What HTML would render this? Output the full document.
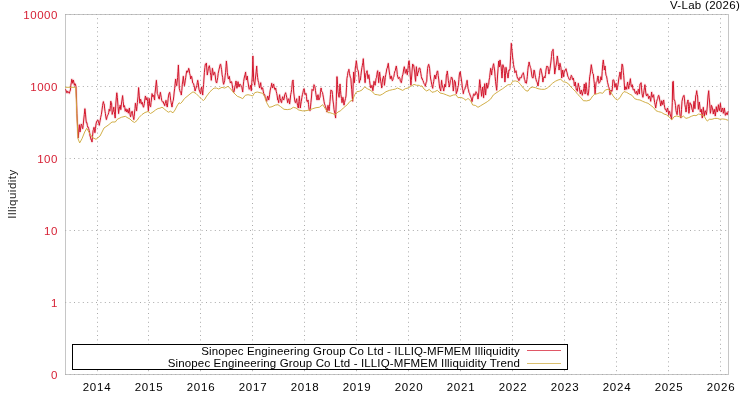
<!DOCTYPE html><html><head><meta charset="utf-8"><title>V-Lab</title><style>
html,body{margin:0;padding:0;background:#fff;}
body{width:750px;height:400px;position:relative;overflow:hidden;font-family:"Liberation Sans",sans-serif;font-size:11.5px;color:#000;}
.t{position:absolute;white-space:nowrap;line-height:12px;height:12px;will-change:transform;}
.yl{color:#d61f33;text-align:right;left:0;width:58px;letter-spacing:0.55px;}
.xl{text-align:center;width:40px;letter-spacing:0.75px;}
.lg{text-align:right;left:100px;width:420px;letter-spacing:0.13px;}
</style></head><body>
<svg width="750" height="400" viewBox="0 0 750 400" style="position:absolute;left:0;top:0"><rect x="0" y="0" width="750" height="400" fill="#fff"/><rect x="65.5" y="14.5" width="663" height="360" fill="none" stroke="#c6c6c6" stroke-width="1" shape-rendering="crispEdges"/><g stroke="#aaaaaa" stroke-width="1" stroke-dasharray="1,3.4"><line x1="97.5" y1="18.2" x2="97.5" y2="374"/><line x1="148.5" y1="18.2" x2="148.5" y2="374"/><line x1="200.5" y1="18.2" x2="200.5" y2="374"/><line x1="252.5" y1="18.2" x2="252.5" y2="374"/><line x1="304.5" y1="18.2" x2="304.5" y2="374"/><line x1="356.5" y1="18.2" x2="356.5" y2="374"/><line x1="408.5" y1="18.2" x2="408.5" y2="374"/><line x1="460.5" y1="18.2" x2="460.5" y2="374"/><line x1="512.5" y1="18.2" x2="512.5" y2="374"/><line x1="564.5" y1="18.2" x2="564.5" y2="374"/><line x1="616.5" y1="18.2" x2="616.5" y2="374"/><line x1="668.5" y1="18.2" x2="668.5" y2="374"/><line x1="720.5" y1="18.2" x2="720.5" y2="374"/><line x1="65.2" y1="14.5" x2="728" y2="14.5"/><line x1="65.2" y1="86.5" x2="728" y2="86.5"/><line x1="65.2" y1="158.5" x2="728" y2="158.5"/><line x1="65.2" y1="230.5" x2="728" y2="230.5"/><line x1="65.2" y1="302.5" x2="728" y2="302.5"/><line x1="65.2" y1="374.5" x2="728" y2="374.5"/></g><clipPath id="c"><rect x="65" y="14" width="664" height="360"/></clipPath><g clip-path="url(#c)" fill="none" stroke-linejoin="round"><polyline points="65.3,89.3 65.8,90.0 66.2,90.7 66.7,92.7 67.2,92.8 67.7,91.2 68.3,92.0 68.8,92.8 69.3,93.3 69.9,91.3 70.4,90.0 70.8,85.4 71.3,82.9 71.7,79.3 72.2,80.2 72.7,83.3 73.3,80.0 73.9,82.5 74.4,85.3 74.9,83.6 75.3,84.0 76.0,86.7 76.5,99.0 76.9,113.3 77.6,126.7 78.3,138.0 78.8,131.2 79.3,124.7 80.0,132.0 80.4,130.1 80.9,125.8 81.3,124.0 81.8,124.9 82.2,127.4 82.7,128.7 83.2,125.4 83.7,120.0 84.3,114.5 84.9,108.7 85.5,114.1 86.0,120.0 86.4,122.9 86.9,122.5 87.3,125.3 87.8,127.3 88.2,127.1 88.7,128.7 89.1,130.3 89.6,132.6 90.0,136.0 90.5,137.0 91.0,139.8 91.5,139.7 92.0,142.0 92.5,136.5 93.1,130.7 93.5,129.3 94.0,127.3 94.5,129.7 94.9,132.7 95.5,128.4 96.0,124.0 96.5,122.0 97.0,120.9 97.5,120.3 98.0,120.0 98.4,122.2 98.9,123.4 99.3,125.3 99.8,122.2 100.2,120.2 100.7,117.3 101.4,114.4 102.0,109.9 102.6,105.6 103.0,103.1 103.4,101.6 103.8,103.5 104.2,104.0 104.6,108.1 105.0,111.2 105.4,113.4 105.8,116.8 106.4,119.6 106.8,118.0 107.2,116.0 107.7,115.3 108.2,114.4 108.7,112.7 109.2,109.2 109.6,110.8 110.0,111.2 110.4,105.7 110.8,101.2 111.2,103.4 111.6,103.2 112.2,114.4 112.6,112.3 113.0,112.0 113.4,109.4 113.8,107.2 114.2,111.4 114.6,114.4 115.2,118.0 115.8,104.0 116.4,96.8 116.8,92.8 117.4,97.6 118.0,106.4 118.6,113.6 119.0,110.0 119.4,108.0 119.8,106.6 120.2,105.2 120.8,109.6 121.4,104.0 122.0,100.0 122.6,95.6 123.2,101.6 123.8,107.2 124.4,105.6 124.8,107.3 125.2,111.2 125.6,110.4 126.0,108.8 126.4,111.0 126.8,112.0 127.2,111.0 127.6,109.6 128.0,112.3 128.4,113.2 128.9,110.2 129.4,108.0 130.0,114.4 130.6,116.8 131.0,114.9 131.4,112.0 131.8,111.8 132.2,111.2 132.6,113.8 133.0,116.0 133.4,117.7 133.8,119.6 134.2,116.6 134.6,112.0 135.0,108.7 135.4,103.2 136.0,106.4 136.6,110.8 137.0,106.5 137.4,102.4 138.0,96.8 138.6,87.6 139.2,95.2 139.8,103.2 140.2,101.6 140.6,99.2 141.0,100.5 141.4,104.0 141.9,103.7 142.4,102.4 142.8,105.0 143.2,106.8 143.6,107.2 144.0,105.2 144.4,103.4 144.8,100.0 145.4,96.0 145.8,97.5 146.2,100.0 146.6,98.5 147.0,97.6 147.6,101.6 148.0,106.6 148.4,110.8 148.8,103.5 149.2,98.4 149.8,105.6 150.2,106.1 150.6,106.8 151.0,102.6 151.4,100.0 152.0,93.6 152.4,94.3 152.8,96.8 153.3,95.1 153.8,95.6 154.2,98.4 154.6,100.0 154.9,93.6 155.3,91.0 155.9,84.8 156.4,80.3 156.9,86.4 157.3,93.7 157.8,94.7 158.3,96.3 158.8,98.6 159.3,99.0 159.9,94.7 160.4,92.3 160.8,94.9 161.3,97.8 161.7,100.3 162.3,101.7 162.8,102.0 163.3,101.7 163.8,103.9 164.2,103.8 164.7,105.7 165.1,103.7 165.6,101.8 166.0,100.3 166.4,103.5 166.9,105.9 167.3,107.0 167.8,102.2 168.2,98.2 168.7,95.0 169.2,93.0 169.7,92.3 170.2,95.7 170.7,100.3 171.1,102.5 171.6,105.0 172.0,107.0 172.4,104.2 172.9,101.4 173.3,100.3 173.8,96.1 174.2,92.0 174.7,88.3 175.1,83.8 175.6,79.0 176.1,83.4 176.7,85.7 177.1,82.1 177.6,77.7 178.0,71.4 178.4,65.0 178.9,76.9 179.3,88.3 179.9,90.8 180.4,92.3 180.9,92.6 181.3,95.0 181.8,90.6 182.3,84.3 182.8,81.0 183.3,76.3 183.9,81.9 184.4,85.7 184.8,83.7 185.3,80.1 185.7,77.7 186.2,74.1 186.7,71.0 187.2,70.7 187.7,72.3 188.2,70.7 188.7,68.3 189.2,69.9 189.7,73.7 190.2,75.3 190.7,79.0 191.1,77.0 191.6,76.3 192.1,78.9 192.7,83.0 193.1,83.5 193.6,83.7 194.0,85.7 194.5,87.1 195.1,91.0 195.5,88.8 196.0,88.3 196.5,86.0 196.9,85.7 197.3,82.7 197.7,80.3 198.2,82.5 198.7,87.0 199.1,89.9 199.6,91.0 200.1,92.6 200.7,93.7 201.1,89.5 201.6,87.0 202.1,90.4 202.7,95.0 203.1,89.3 203.6,84.3 204.0,78.0 204.4,72.3 204.9,67.4 205.3,64.3 205.9,64.5 206.4,63.0 206.9,70.2 207.3,75.0 207.9,71.6 208.4,68.3 208.9,67.0 209.3,65.7 209.8,68.0 210.3,72.3 210.8,75.4 211.3,80.3 211.9,74.0 212.4,68.3 212.9,71.1 213.3,75.0 213.8,74.9 214.2,72.4 214.7,72.3 215.1,74.5 215.6,79.0 216.1,82.1 216.7,83.0 217.2,80.4 217.7,77.7 218.2,73.5 218.7,71.0 219.1,69.1 219.6,67.0 220.1,64.5 220.7,64.3 221.1,67.1 221.6,69.7 222.1,74.8 222.7,77.7 223.1,81.9 223.6,84.3 224.1,82.8 224.7,80.3 225.1,75.8 225.6,72.3 226.0,66.3 226.4,61.0 226.9,65.9 227.3,72.3 227.9,76.3 228.4,79.0 228.9,77.7 229.3,76.3 229.9,80.3 230.4,83.0 231.0,81.9 231.6,81.7 232.1,84.3 232.7,88.3 233.2,91.1 233.7,92.3 234.3,90.8 234.8,87.0 235.4,84.8 236.0,81.0 236.5,85.4 236.9,88.3 237.5,85.8 238.0,81.7 238.5,84.9 239.1,87.0 239.5,84.8 240.0,84.0 240.4,84.9 240.9,85.4 241.3,86.7 241.8,87.3 242.2,89.1 242.7,92.0 243.2,86.1 243.7,81.3 244.2,78.1 244.7,76.0 245.1,74.5 245.6,72.0 246.0,77.1 246.4,80.0 246.9,77.9 247.3,76.0 247.8,81.0 248.3,84.0 248.8,87.8 249.3,89.3 249.9,88.4 250.4,85.3 250.9,87.7 251.3,90.7 251.8,82.7 252.3,76.0 252.9,56.0 253.3,68.0 253.7,81.3 254.2,82.6 254.7,85.3 255.2,80.0 255.7,76.0 256.2,71.3 256.7,66.0 257.1,72.6 257.6,77.3 258.1,80.8 258.7,82.7 259.1,85.3 259.6,88.0 260.1,85.7 260.7,82.7 261.1,86.7 261.6,89.3 262.1,87.7 262.7,88.0 263.2,91.1 263.7,93.3 264.2,95.0 264.7,94.7 265.1,96.7 265.6,97.3 266.1,99.9 266.7,101.3 267.2,98.6 267.7,96.0 268.2,97.2 268.7,100.0 269.1,98.0 269.6,94.7 270.1,90.9 270.7,88.0 271.2,86.4 271.7,83.3 272.2,86.8 272.7,88.0 273.1,85.8 273.6,84.0 274.1,86.4 274.7,89.3 275.2,89.7 275.7,88.0 276.2,91.2 276.7,93.3 277.2,95.9 277.7,100.0 278.2,100.4 278.7,102.7 279.1,97.8 279.6,94.7 280.1,98.3 280.7,100.0 281.1,102.1 281.6,102.7 282.1,98.8 282.7,96.7 283.2,99.1 283.7,100.0 284.2,98.5 284.7,94.7 285.1,94.0 285.6,92.7 286.1,94.6 286.7,97.3 287.2,100.1 287.7,102.7 288.2,99.8 288.7,98.7 289.1,100.2 289.6,104.0 290.1,100.5 290.7,94.7 291.2,92.4 291.7,89.3 292.4,81.3 293.1,80.0 293.7,92.0 294.2,96.1 294.7,100.0 295.2,102.4 295.7,102.7 296.2,100.5 296.7,98.7 297.1,102.9 297.6,105.3 298.0,107.4 298.4,108.0 298.9,101.3 299.3,96.0 299.8,101.4 300.3,108.0 300.8,104.2 301.3,101.3 301.9,97.4 302.4,94.7 302.9,92.9 303.3,90.7 304.0,88.7 304.5,91.1 305.1,94.7 305.5,93.8 306.0,93.3 306.5,96.4 306.9,101.3 307.5,101.7 308.0,100.0 308.5,104.3 309.1,109.3 309.5,109.9 310.0,110.7 310.5,106.9 310.9,102.7 311.5,97.0 312.0,89.3 312.5,89.8 313.1,90.7 313.5,88.7 314.0,84.7 314.5,85.7 314.9,86.7 315.5,90.7 316.0,94.7 316.5,97.4 317.1,100.0 317.5,96.2 318.0,94.7 318.5,97.2 318.9,100.0 319.5,97.9 320.0,97.3 320.5,91.5 321.1,88.0 321.5,90.7 322.0,92.0 322.5,92.5 322.9,94.7 323.5,97.9 324.0,101.3 324.5,103.9 325.1,105.3 325.5,106.8 326.0,108.0 326.5,109.6 326.9,112.0 327.5,108.7 328.0,105.3 328.5,108.1 329.1,110.7 329.5,106.7 330.0,101.3 330.5,94.7 330.9,90.0 331.5,90.5 332.0,90.7 332.5,94.7 332.9,100.0 333.5,104.1 334.0,109.3 334.5,112.0 334.9,113.3 335.6,118.0 336.3,101.3 336.9,76.7 337.1,76.7 337.5,84.4 338.0,92.0 338.5,94.8 339.1,97.3 339.5,91.3 340.0,84.0 340.5,90.3 340.9,94.7 341.5,98.5 342.0,102.7 342.5,100.3 342.9,97.3 343.5,101.2 344.0,105.1 344.5,102.6 345.1,100.0 345.5,98.5 346.0,96.0 346.5,87.2 346.9,78.7 347.5,75.4 348.0,72.0 348.5,70.6 348.9,69.3 349.5,73.7 350.0,76.0 350.5,77.8 350.9,78.7 351.3,84.9 351.7,89.3 352.2,96.4 352.7,101.3 353.1,86.1 353.6,72.0 354.0,77.5 354.4,82.7 354.9,76.4 355.3,68.0 355.8,65.1 356.3,60.7 356.8,64.1 357.3,69.3 357.9,69.8 358.4,72.0 358.9,77.2 359.3,82.7 359.9,80.3 360.4,80.0 360.9,75.4 361.3,72.0 361.9,67.6 362.4,65.3 362.9,62.4 363.3,58.7 363.8,66.0 364.3,72.0 364.7,78.3 365.1,82.7 365.5,77.2 366.0,73.3 366.5,72.5 367.1,70.7 367.5,75.1 368.0,78.7 368.5,75.8 368.9,74.7 369.5,80.3 370.0,84.0 370.5,87.1 370.9,88.0 371.5,86.0 372.0,85.3 372.5,89.1 372.9,90.7 373.5,85.8 374.0,81.3 374.5,83.3 375.1,85.3 375.5,83.2 376.0,78.7 376.5,77.5 376.9,74.7 377.3,71.9 377.7,70.7 378.2,76.5 378.7,82.7 379.1,77.4 379.6,72.0 380.1,76.3 380.7,81.3 381.2,83.9 381.7,88.0 382.2,82.9 382.7,78.7 383.1,77.9 383.6,76.0 384.0,79.5 384.4,85.3 384.9,81.5 385.3,77.3 385.8,74.5 386.3,72.0 386.8,68.8 387.3,68.0 387.8,65.3 388.3,63.3 388.8,68.0 389.3,72.0 389.8,75.4 390.3,78.7 390.8,76.3 391.3,76.0 391.9,79.5 392.4,80.7 392.9,79.7 393.3,77.3 393.9,76.5 394.4,73.3 394.9,71.1 395.3,70.7 395.8,67.8 396.3,66.0 396.8,69.2 397.3,74.7 397.9,77.3 398.4,78.7 398.9,77.4 399.3,77.3 399.9,78.4 400.4,81.3 400.9,81.8 401.3,82.7 401.8,80.3 402.3,76.0 402.8,74.8 403.3,72.0 403.8,68.8 404.3,66.7 404.8,69.2 405.3,73.3 405.8,72.3 406.3,69.3 406.8,72.2 407.3,74.7 407.8,70.5 408.3,65.3 408.7,62.0 409.1,60.7 409.5,65.3 410.0,72.0 410.5,79.1 410.9,85.3 411.3,80.5 411.7,76.0 412.2,69.0 412.7,64.0 413.2,65.7 413.7,65.3 414.2,69.0 414.7,72.0 415.1,77.4 415.6,81.3 416.0,73.0 416.4,66.7 416.9,72.2 417.3,76.0 417.8,73.0 418.3,72.0 418.7,70.9 419.1,68.0 419.5,68.1 420.0,68.3 420.4,70.6 420.9,73.8 421.3,76.3 421.8,78.7 422.2,78.4 422.7,80.3 423.1,80.6 423.6,82.6 424.0,83.7 424.4,83.9 424.9,84.5 425.3,86.3 425.8,84.0 426.2,82.1 426.7,81.7 427.1,74.3 427.6,68.3 428.1,65.9 428.7,64.3 429.1,65.9 429.6,68.3 430.1,74.3 430.7,79.0 431.2,81.2 431.7,84.3 432.2,86.3 432.7,88.3 433.2,84.2 433.7,81.7 434.2,78.0 434.7,75.0 435.2,75.8 435.7,79.0 436.2,75.7 436.7,73.7 437.2,71.2 437.7,71.0 438.2,75.6 438.7,79.0 439.2,83.8 439.7,88.3 440.2,88.9 440.7,91.0 441.1,85.6 441.6,80.3 442.1,84.7 442.7,87.0 443.2,88.1 443.7,91.0 444.2,88.4 444.7,84.3 445.1,85.5 445.6,87.0 446.0,81.0 446.4,75.0 446.9,73.8 447.3,71.0 447.8,75.4 448.3,80.3 448.8,83.7 449.3,87.0 449.9,84.1 450.4,80.3 450.9,79.8 451.3,77.0 451.9,77.6 452.4,79.0 452.9,85.8 453.3,91.0 453.9,86.2 454.4,80.3 454.9,81.3 455.3,81.7 455.8,87.4 456.3,93.7 456.8,92.0 457.3,91.0 457.9,87.3 458.4,85.7 458.9,79.4 459.3,75.0 459.8,72.3 460.3,71.7 460.8,75.9 461.3,79.0 461.9,83.1 462.4,88.3 462.9,90.2 463.3,93.7 463.9,90.7 464.4,89.7 464.9,89.2 465.3,87.0 465.8,86.2 466.3,83.7 466.7,82.4 467.1,80.3 467.5,83.8 468.0,88.3 468.5,89.7 468.9,92.3 469.5,93.2 470.0,95.0 470.5,96.2 471.1,97.7 471.5,98.8 472.0,101.7 472.5,98.9 473.1,96.3 473.5,94.4 474.0,93.7 474.5,95.4 475.1,95.0 475.5,94.5 476.0,91.7 476.5,92.8 477.1,93.7 477.5,95.7 478.0,99.0 478.5,96.1 478.9,91.0 479.3,84.9 479.7,79.7 480.2,83.7 480.7,88.3 481.1,91.1 481.6,96.3 482.1,91.4 482.7,87.0 483.1,92.3 483.6,97.7 484.1,90.7 484.7,83.7 485.1,88.6 485.6,95.0 486.1,89.0 486.7,83.0 487.1,84.5 487.6,88.3 488.1,85.8 488.7,84.3 489.1,80.0 489.6,77.7 490.1,72.8 490.7,68.3 491.1,70.6 491.6,75.0 492.1,70.5 492.7,68.3 493.1,65.5 493.6,63.7 494.1,66.7 494.7,71.0 495.1,76.5 495.6,81.7 496.1,86.1 496.7,90.3 497.1,83.3 497.6,75.0 498.1,68.4 498.7,61.0 499.1,64.5 499.6,67.0 500.0,60.0 500.5,63.9 501.1,66.0 501.5,71.7 502.0,78.0 502.5,70.9 502.9,64.7 503.5,67.2 504.0,67.3 504.5,73.8 504.9,82.0 505.5,75.2 506.0,67.3 506.5,70.3 506.9,72.7 507.5,74.2 508.0,78.0 508.5,74.8 508.9,70.0 509.5,70.3 510.0,68.7 510.7,55.3 511.3,43.3 511.8,49.0 512.3,54.0 512.7,57.9 513.1,60.7 513.5,64.7 514.0,67.3 514.5,69.1 514.9,72.7 515.5,71.7 516.0,70.7 516.5,73.7 517.1,76.7 517.5,78.1 518.0,78.0 518.5,80.1 518.9,80.7 519.5,79.8 520.0,77.3 520.5,77.9 521.1,78.0 521.5,77.3 522.0,74.7 522.4,74.4 522.9,73.8 523.3,72.7 523.9,75.4 524.4,79.3 524.9,79.9 525.3,82.7 525.9,82.1 526.4,83.3 526.9,79.7 527.3,76.7 527.8,70.4 528.3,66.0 528.7,64.8 529.1,62.0 529.5,64.1 530.0,66.0 530.5,67.6 530.9,68.7 531.5,73.0 532.0,76.7 532.5,77.8 533.1,78.0 533.5,74.0 534.0,70.0 534.5,70.8 534.9,74.0 535.5,77.4 536.0,79.3 536.5,81.3 537.1,82.0 537.5,84.0 538.0,86.0 538.5,82.8 538.9,79.3 539.5,75.4 540.0,70.7 540.5,68.6 540.9,68.7 541.5,71.9 542.0,74.0 542.5,77.4 542.9,82.0 543.5,78.3 544.0,76.7 544.5,76.8 544.9,78.0 545.5,74.6 546.0,70.0 546.5,67.3 546.9,66.0 547.5,66.9 548.0,66.7 548.5,71.5 548.9,74.0 549.5,71.3 550.0,68.7 550.5,65.1 550.9,62.0 551.5,56.6 552.0,51.3 552.5,50.8 553.1,49.3 553.5,56.3 554.0,62.0 554.7,74.0 555.2,70.9 555.7,67.3 556.2,65.0 556.7,62.0 557.3,56.0 557.8,59.3 558.3,64.7 558.7,66.5 559.1,70.0 559.5,66.1 560.0,63.3 560.5,65.9 560.9,67.3 561.3,72.2 561.7,78.0 562.2,74.2 562.7,70.0 563.1,72.2 563.6,76.7 564.1,72.9 564.7,71.3 565.1,69.9 565.6,70.0 566.0,68.7 566.5,71.1 567.1,72.7 567.5,75.1 568.0,76.7 568.5,77.5 569.1,79.3 569.5,79.7 570.0,80.0 570.4,78.4 570.9,76.8 571.3,75.3 571.9,76.4 572.4,79.3 572.9,79.6 573.3,78.0 573.9,81.3 574.4,86.0 574.9,85.1 575.3,82.0 575.9,87.0 576.4,90.0 576.9,89.5 577.3,91.3 577.8,87.2 578.3,83.3 578.8,86.1 579.3,87.3 579.9,91.8 580.4,94.0 580.9,91.9 581.3,90.0 581.8,92.1 582.3,95.3 582.8,92.6 583.3,91.3 583.8,88.7 584.3,84.0 584.7,88.3 585.1,94.0 585.5,88.5 586.0,82.7 586.5,86.8 587.1,92.7 587.5,94.1 588.0,95.3 588.5,93.1 588.9,88.7 589.3,81.8 589.7,76.7 590.2,74.1 590.7,70.0 591.3,64.7 591.8,68.0 592.3,71.3 592.8,73.6 593.3,74.0 593.8,79.2 594.3,83.3 594.7,88.0 595.1,94.0 595.5,89.3 596.0,82.7 596.5,82.0 597.1,81.3 597.5,77.5 598.0,76.0 598.5,78.5 598.9,83.3 599.5,82.6 600.0,82.0 600.5,79.2 600.9,76.7 601.3,77.9 601.7,80.0 602.2,71.5 602.7,64.7 603.3,60.0 603.8,64.6 604.3,70.0 604.7,67.6 605.1,66.0 605.5,71.5 606.0,75.3 606.5,76.1 607.1,79.3 607.5,82.3 608.0,84.0 608.5,86.5 608.9,87.3 609.5,90.1 610.0,94.7 610.5,93.4 610.9,90.0 611.5,91.2 612.0,91.3 612.5,86.6 612.9,80.0 613.5,79.8 614.0,80.7 614.5,83.7 614.9,87.3 615.5,85.1 616.0,83.3 616.5,87.9 616.9,90.0 617.5,87.5 618.0,84.7 618.5,81.0 618.9,78.0 619.5,74.8 620.0,72.0 620.5,75.1 620.9,79.3 621.5,70.6 622.0,64.0 622.5,64.7 622.9,67.3 623.3,72.1 623.7,75.3 624.2,82.2 624.7,90.0 625.2,89.4 625.7,86.7 626.2,87.4 626.7,89.3 627.1,85.1 627.6,82.0 628.1,85.4 628.7,88.7 629.1,85.6 629.6,84.0 630.0,81.0 630.4,78.7 630.9,83.8 631.3,86.7 631.8,86.6 632.3,84.7 632.8,88.1 633.3,90.0 633.9,90.0 634.4,89.3 634.9,92.3 635.3,93.3 635.9,93.4 636.4,91.3 636.9,93.1 637.3,94.7 637.8,92.5 638.3,89.3 638.8,90.6 639.3,94.0 640.0,84.0 640.5,83.9 641.1,82.7 641.5,87.9 642.0,93.3 642.5,95.9 642.9,97.3 643.5,94.3 644.0,90.7 644.5,87.2 644.9,84.7 645.3,87.3 645.7,92.0 646.2,95.0 646.7,96.0 647.2,94.1 647.7,94.0 648.2,96.3 648.7,98.7 649.1,97.0 649.6,96.0 650.1,98.2 650.7,101.3 651.1,97.2 651.6,92.0 652.1,95.8 652.7,97.3 653.1,95.4 653.6,94.7 654.1,99.0 654.7,102.7 655.2,104.9 655.7,108.0 656.2,104.8 656.7,101.3 657.2,99.7 657.7,98.7 658.2,96.2 658.7,95.3 659.2,96.9 659.7,100.0 660.2,102.3 660.7,106.0 661.2,104.3 661.7,100.7 662.2,102.7 662.7,104.7 663.2,101.7 663.7,100.0 664.2,104.6 664.7,107.3 665.2,109.5 665.7,109.3 666.2,110.5 666.7,112.0 667.1,109.1 667.6,108.0 668.1,110.6 668.7,114.7 669.1,112.0 669.6,111.3 670.1,113.6 670.7,116.7 671.1,117.0 671.6,119.3 672.3,102.7 672.7,82.0 673.3,81.3 674.0,100.0 674.5,100.0 674.9,101.3 675.5,105.4 676.0,110.7 676.5,112.8 677.1,114.7 677.5,110.9 678.0,105.3 678.5,105.6 678.9,104.7 679.5,109.8 680.0,115.3 680.5,116.5 680.9,118.0 681.5,109.7 682.0,101.3 682.5,99.0 682.9,97.3 683.5,95.9 684.0,95.3 684.5,98.9 684.9,104.7 685.5,107.8 686.0,112.0 686.5,109.5 686.9,104.7 687.5,101.4 688.0,100.0 688.5,106.7 688.9,113.3 689.5,108.3 690.0,102.7 690.5,104.2 690.9,104.0 691.5,106.0 692.0,109.3 692.5,110.1 692.9,112.0 693.5,106.1 694.0,101.3 694.5,104.8 694.9,108.7 695.3,102.2 695.7,96.0 696.2,94.4 696.7,90.7 697.1,94.2 697.6,96.0 698.0,103.6 698.4,109.3 698.9,104.5 699.3,102.0 699.8,105.9 700.3,112.0 700.8,111.2 701.3,109.3 701.8,114.6 702.3,118.0 702.8,112.6 703.3,107.3 703.8,111.9 704.3,116.0 704.8,112.1 705.3,110.7 705.8,112.4 706.3,114.7 706.8,111.4 707.3,106.0 708.0,96.0 708.7,90.7 709.1,97.1 709.6,102.0 710.0,108.5 710.4,113.3 710.9,110.5 711.3,105.3 711.8,106.1 712.3,108.0 712.8,110.1 713.3,114.0 713.8,110.8 714.3,109.3 714.8,112.7 715.3,116.0 715.8,111.8 716.3,106.7 716.8,110.4 717.3,112.0 717.9,108.9 718.4,104.7 718.9,108.0 719.3,110.7 719.9,107.6 720.4,103.3 720.9,107.6 721.3,112.0 721.9,110.1 722.4,108.0 722.9,109.6 723.3,113.3 723.8,111.3 724.3,108.0 724.8,111.0 725.3,115.3 725.8,115.0 726.3,112.7 726.8,114.0 727.3,114.7 727.7,112.5 728.1,111.3" stroke="#d3142a" stroke-width="2.4" stroke-opacity="0.15"/><polyline points="65.3,89.3 65.8,90.0 66.2,90.7 66.7,92.7 67.2,92.8 67.7,91.2 68.3,92.0 68.8,92.8 69.3,93.3 69.9,91.3 70.4,90.0 70.8,85.4 71.3,82.9 71.7,79.3 72.2,80.2 72.7,83.3 73.3,80.0 73.9,82.5 74.4,85.3 74.9,83.6 75.3,84.0 76.0,86.7 76.5,99.0 76.9,113.3 77.6,126.7 78.3,138.0 78.8,131.2 79.3,124.7 80.0,132.0 80.4,130.1 80.9,125.8 81.3,124.0 81.8,124.9 82.2,127.4 82.7,128.7 83.2,125.4 83.7,120.0 84.3,114.5 84.9,108.7 85.5,114.1 86.0,120.0 86.4,122.9 86.9,122.5 87.3,125.3 87.8,127.3 88.2,127.1 88.7,128.7 89.1,130.3 89.6,132.6 90.0,136.0 90.5,137.0 91.0,139.8 91.5,139.7 92.0,142.0 92.5,136.5 93.1,130.7 93.5,129.3 94.0,127.3 94.5,129.7 94.9,132.7 95.5,128.4 96.0,124.0 96.5,122.0 97.0,120.9 97.5,120.3 98.0,120.0 98.4,122.2 98.9,123.4 99.3,125.3 99.8,122.2 100.2,120.2 100.7,117.3 101.4,114.4 102.0,109.9 102.6,105.6 103.0,103.1 103.4,101.6 103.8,103.5 104.2,104.0 104.6,108.1 105.0,111.2 105.4,113.4 105.8,116.8 106.4,119.6 106.8,118.0 107.2,116.0 107.7,115.3 108.2,114.4 108.7,112.7 109.2,109.2 109.6,110.8 110.0,111.2 110.4,105.7 110.8,101.2 111.2,103.4 111.6,103.2 112.2,114.4 112.6,112.3 113.0,112.0 113.4,109.4 113.8,107.2 114.2,111.4 114.6,114.4 115.2,118.0 115.8,104.0 116.4,96.8 116.8,92.8 117.4,97.6 118.0,106.4 118.6,113.6 119.0,110.0 119.4,108.0 119.8,106.6 120.2,105.2 120.8,109.6 121.4,104.0 122.0,100.0 122.6,95.6 123.2,101.6 123.8,107.2 124.4,105.6 124.8,107.3 125.2,111.2 125.6,110.4 126.0,108.8 126.4,111.0 126.8,112.0 127.2,111.0 127.6,109.6 128.0,112.3 128.4,113.2 128.9,110.2 129.4,108.0 130.0,114.4 130.6,116.8 131.0,114.9 131.4,112.0 131.8,111.8 132.2,111.2 132.6,113.8 133.0,116.0 133.4,117.7 133.8,119.6 134.2,116.6 134.6,112.0 135.0,108.7 135.4,103.2 136.0,106.4 136.6,110.8 137.0,106.5 137.4,102.4 138.0,96.8 138.6,87.6 139.2,95.2 139.8,103.2 140.2,101.6 140.6,99.2 141.0,100.5 141.4,104.0 141.9,103.7 142.4,102.4 142.8,105.0 143.2,106.8 143.6,107.2 144.0,105.2 144.4,103.4 144.8,100.0 145.4,96.0 145.8,97.5 146.2,100.0 146.6,98.5 147.0,97.6 147.6,101.6 148.0,106.6 148.4,110.8 148.8,103.5 149.2,98.4 149.8,105.6 150.2,106.1 150.6,106.8 151.0,102.6 151.4,100.0 152.0,93.6 152.4,94.3 152.8,96.8 153.3,95.1 153.8,95.6 154.2,98.4 154.6,100.0 154.9,93.6 155.3,91.0 155.9,84.8 156.4,80.3 156.9,86.4 157.3,93.7 157.8,94.7 158.3,96.3 158.8,98.6 159.3,99.0 159.9,94.7 160.4,92.3 160.8,94.9 161.3,97.8 161.7,100.3 162.3,101.7 162.8,102.0 163.3,101.7 163.8,103.9 164.2,103.8 164.7,105.7 165.1,103.7 165.6,101.8 166.0,100.3 166.4,103.5 166.9,105.9 167.3,107.0 167.8,102.2 168.2,98.2 168.7,95.0 169.2,93.0 169.7,92.3 170.2,95.7 170.7,100.3 171.1,102.5 171.6,105.0 172.0,107.0 172.4,104.2 172.9,101.4 173.3,100.3 173.8,96.1 174.2,92.0 174.7,88.3 175.1,83.8 175.6,79.0 176.1,83.4 176.7,85.7 177.1,82.1 177.6,77.7 178.0,71.4 178.4,65.0 178.9,76.9 179.3,88.3 179.9,90.8 180.4,92.3 180.9,92.6 181.3,95.0 181.8,90.6 182.3,84.3 182.8,81.0 183.3,76.3 183.9,81.9 184.4,85.7 184.8,83.7 185.3,80.1 185.7,77.7 186.2,74.1 186.7,71.0 187.2,70.7 187.7,72.3 188.2,70.7 188.7,68.3 189.2,69.9 189.7,73.7 190.2,75.3 190.7,79.0 191.1,77.0 191.6,76.3 192.1,78.9 192.7,83.0 193.1,83.5 193.6,83.7 194.0,85.7 194.5,87.1 195.1,91.0 195.5,88.8 196.0,88.3 196.5,86.0 196.9,85.7 197.3,82.7 197.7,80.3 198.2,82.5 198.7,87.0 199.1,89.9 199.6,91.0 200.1,92.6 200.7,93.7 201.1,89.5 201.6,87.0 202.1,90.4 202.7,95.0 203.1,89.3 203.6,84.3 204.0,78.0 204.4,72.3 204.9,67.4 205.3,64.3 205.9,64.5 206.4,63.0 206.9,70.2 207.3,75.0 207.9,71.6 208.4,68.3 208.9,67.0 209.3,65.7 209.8,68.0 210.3,72.3 210.8,75.4 211.3,80.3 211.9,74.0 212.4,68.3 212.9,71.1 213.3,75.0 213.8,74.9 214.2,72.4 214.7,72.3 215.1,74.5 215.6,79.0 216.1,82.1 216.7,83.0 217.2,80.4 217.7,77.7 218.2,73.5 218.7,71.0 219.1,69.1 219.6,67.0 220.1,64.5 220.7,64.3 221.1,67.1 221.6,69.7 222.1,74.8 222.7,77.7 223.1,81.9 223.6,84.3 224.1,82.8 224.7,80.3 225.1,75.8 225.6,72.3 226.0,66.3 226.4,61.0 226.9,65.9 227.3,72.3 227.9,76.3 228.4,79.0 228.9,77.7 229.3,76.3 229.9,80.3 230.4,83.0 231.0,81.9 231.6,81.7 232.1,84.3 232.7,88.3 233.2,91.1 233.7,92.3 234.3,90.8 234.8,87.0 235.4,84.8 236.0,81.0 236.5,85.4 236.9,88.3 237.5,85.8 238.0,81.7 238.5,84.9 239.1,87.0 239.5,84.8 240.0,84.0 240.4,84.9 240.9,85.4 241.3,86.7 241.8,87.3 242.2,89.1 242.7,92.0 243.2,86.1 243.7,81.3 244.2,78.1 244.7,76.0 245.1,74.5 245.6,72.0 246.0,77.1 246.4,80.0 246.9,77.9 247.3,76.0 247.8,81.0 248.3,84.0 248.8,87.8 249.3,89.3 249.9,88.4 250.4,85.3 250.9,87.7 251.3,90.7 251.8,82.7 252.3,76.0 252.9,56.0 253.3,68.0 253.7,81.3 254.2,82.6 254.7,85.3 255.2,80.0 255.7,76.0 256.2,71.3 256.7,66.0 257.1,72.6 257.6,77.3 258.1,80.8 258.7,82.7 259.1,85.3 259.6,88.0 260.1,85.7 260.7,82.7 261.1,86.7 261.6,89.3 262.1,87.7 262.7,88.0 263.2,91.1 263.7,93.3 264.2,95.0 264.7,94.7 265.1,96.7 265.6,97.3 266.1,99.9 266.7,101.3 267.2,98.6 267.7,96.0 268.2,97.2 268.7,100.0 269.1,98.0 269.6,94.7 270.1,90.9 270.7,88.0 271.2,86.4 271.7,83.3 272.2,86.8 272.7,88.0 273.1,85.8 273.6,84.0 274.1,86.4 274.7,89.3 275.2,89.7 275.7,88.0 276.2,91.2 276.7,93.3 277.2,95.9 277.7,100.0 278.2,100.4 278.7,102.7 279.1,97.8 279.6,94.7 280.1,98.3 280.7,100.0 281.1,102.1 281.6,102.7 282.1,98.8 282.7,96.7 283.2,99.1 283.7,100.0 284.2,98.5 284.7,94.7 285.1,94.0 285.6,92.7 286.1,94.6 286.7,97.3 287.2,100.1 287.7,102.7 288.2,99.8 288.7,98.7 289.1,100.2 289.6,104.0 290.1,100.5 290.7,94.7 291.2,92.4 291.7,89.3 292.4,81.3 293.1,80.0 293.7,92.0 294.2,96.1 294.7,100.0 295.2,102.4 295.7,102.7 296.2,100.5 296.7,98.7 297.1,102.9 297.6,105.3 298.0,107.4 298.4,108.0 298.9,101.3 299.3,96.0 299.8,101.4 300.3,108.0 300.8,104.2 301.3,101.3 301.9,97.4 302.4,94.7 302.9,92.9 303.3,90.7 304.0,88.7 304.5,91.1 305.1,94.7 305.5,93.8 306.0,93.3 306.5,96.4 306.9,101.3 307.5,101.7 308.0,100.0 308.5,104.3 309.1,109.3 309.5,109.9 310.0,110.7 310.5,106.9 310.9,102.7 311.5,97.0 312.0,89.3 312.5,89.8 313.1,90.7 313.5,88.7 314.0,84.7 314.5,85.7 314.9,86.7 315.5,90.7 316.0,94.7 316.5,97.4 317.1,100.0 317.5,96.2 318.0,94.7 318.5,97.2 318.9,100.0 319.5,97.9 320.0,97.3 320.5,91.5 321.1,88.0 321.5,90.7 322.0,92.0 322.5,92.5 322.9,94.7 323.5,97.9 324.0,101.3 324.5,103.9 325.1,105.3 325.5,106.8 326.0,108.0 326.5,109.6 326.9,112.0 327.5,108.7 328.0,105.3 328.5,108.1 329.1,110.7 329.5,106.7 330.0,101.3 330.5,94.7 330.9,90.0 331.5,90.5 332.0,90.7 332.5,94.7 332.9,100.0 333.5,104.1 334.0,109.3 334.5,112.0 334.9,113.3 335.6,118.0 336.3,101.3 336.9,76.7 337.1,76.7 337.5,84.4 338.0,92.0 338.5,94.8 339.1,97.3 339.5,91.3 340.0,84.0 340.5,90.3 340.9,94.7 341.5,98.5 342.0,102.7 342.5,100.3 342.9,97.3 343.5,101.2 344.0,105.1 344.5,102.6 345.1,100.0 345.5,98.5 346.0,96.0 346.5,87.2 346.9,78.7 347.5,75.4 348.0,72.0 348.5,70.6 348.9,69.3 349.5,73.7 350.0,76.0 350.5,77.8 350.9,78.7 351.3,84.9 351.7,89.3 352.2,96.4 352.7,101.3 353.1,86.1 353.6,72.0 354.0,77.5 354.4,82.7 354.9,76.4 355.3,68.0 355.8,65.1 356.3,60.7 356.8,64.1 357.3,69.3 357.9,69.8 358.4,72.0 358.9,77.2 359.3,82.7 359.9,80.3 360.4,80.0 360.9,75.4 361.3,72.0 361.9,67.6 362.4,65.3 362.9,62.4 363.3,58.7 363.8,66.0 364.3,72.0 364.7,78.3 365.1,82.7 365.5,77.2 366.0,73.3 366.5,72.5 367.1,70.7 367.5,75.1 368.0,78.7 368.5,75.8 368.9,74.7 369.5,80.3 370.0,84.0 370.5,87.1 370.9,88.0 371.5,86.0 372.0,85.3 372.5,89.1 372.9,90.7 373.5,85.8 374.0,81.3 374.5,83.3 375.1,85.3 375.5,83.2 376.0,78.7 376.5,77.5 376.9,74.7 377.3,71.9 377.7,70.7 378.2,76.5 378.7,82.7 379.1,77.4 379.6,72.0 380.1,76.3 380.7,81.3 381.2,83.9 381.7,88.0 382.2,82.9 382.7,78.7 383.1,77.9 383.6,76.0 384.0,79.5 384.4,85.3 384.9,81.5 385.3,77.3 385.8,74.5 386.3,72.0 386.8,68.8 387.3,68.0 387.8,65.3 388.3,63.3 388.8,68.0 389.3,72.0 389.8,75.4 390.3,78.7 390.8,76.3 391.3,76.0 391.9,79.5 392.4,80.7 392.9,79.7 393.3,77.3 393.9,76.5 394.4,73.3 394.9,71.1 395.3,70.7 395.8,67.8 396.3,66.0 396.8,69.2 397.3,74.7 397.9,77.3 398.4,78.7 398.9,77.4 399.3,77.3 399.9,78.4 400.4,81.3 400.9,81.8 401.3,82.7 401.8,80.3 402.3,76.0 402.8,74.8 403.3,72.0 403.8,68.8 404.3,66.7 404.8,69.2 405.3,73.3 405.8,72.3 406.3,69.3 406.8,72.2 407.3,74.7 407.8,70.5 408.3,65.3 408.7,62.0 409.1,60.7 409.5,65.3 410.0,72.0 410.5,79.1 410.9,85.3 411.3,80.5 411.7,76.0 412.2,69.0 412.7,64.0 413.2,65.7 413.7,65.3 414.2,69.0 414.7,72.0 415.1,77.4 415.6,81.3 416.0,73.0 416.4,66.7 416.9,72.2 417.3,76.0 417.8,73.0 418.3,72.0 418.7,70.9 419.1,68.0 419.5,68.1 420.0,68.3 420.4,70.6 420.9,73.8 421.3,76.3 421.8,78.7 422.2,78.4 422.7,80.3 423.1,80.6 423.6,82.6 424.0,83.7 424.4,83.9 424.9,84.5 425.3,86.3 425.8,84.0 426.2,82.1 426.7,81.7 427.1,74.3 427.6,68.3 428.1,65.9 428.7,64.3 429.1,65.9 429.6,68.3 430.1,74.3 430.7,79.0 431.2,81.2 431.7,84.3 432.2,86.3 432.7,88.3 433.2,84.2 433.7,81.7 434.2,78.0 434.7,75.0 435.2,75.8 435.7,79.0 436.2,75.7 436.7,73.7 437.2,71.2 437.7,71.0 438.2,75.6 438.7,79.0 439.2,83.8 439.7,88.3 440.2,88.9 440.7,91.0 441.1,85.6 441.6,80.3 442.1,84.7 442.7,87.0 443.2,88.1 443.7,91.0 444.2,88.4 444.7,84.3 445.1,85.5 445.6,87.0 446.0,81.0 446.4,75.0 446.9,73.8 447.3,71.0 447.8,75.4 448.3,80.3 448.8,83.7 449.3,87.0 449.9,84.1 450.4,80.3 450.9,79.8 451.3,77.0 451.9,77.6 452.4,79.0 452.9,85.8 453.3,91.0 453.9,86.2 454.4,80.3 454.9,81.3 455.3,81.7 455.8,87.4 456.3,93.7 456.8,92.0 457.3,91.0 457.9,87.3 458.4,85.7 458.9,79.4 459.3,75.0 459.8,72.3 460.3,71.7 460.8,75.9 461.3,79.0 461.9,83.1 462.4,88.3 462.9,90.2 463.3,93.7 463.9,90.7 464.4,89.7 464.9,89.2 465.3,87.0 465.8,86.2 466.3,83.7 466.7,82.4 467.1,80.3 467.5,83.8 468.0,88.3 468.5,89.7 468.9,92.3 469.5,93.2 470.0,95.0 470.5,96.2 471.1,97.7 471.5,98.8 472.0,101.7 472.5,98.9 473.1,96.3 473.5,94.4 474.0,93.7 474.5,95.4 475.1,95.0 475.5,94.5 476.0,91.7 476.5,92.8 477.1,93.7 477.5,95.7 478.0,99.0 478.5,96.1 478.9,91.0 479.3,84.9 479.7,79.7 480.2,83.7 480.7,88.3 481.1,91.1 481.6,96.3 482.1,91.4 482.7,87.0 483.1,92.3 483.6,97.7 484.1,90.7 484.7,83.7 485.1,88.6 485.6,95.0 486.1,89.0 486.7,83.0 487.1,84.5 487.6,88.3 488.1,85.8 488.7,84.3 489.1,80.0 489.6,77.7 490.1,72.8 490.7,68.3 491.1,70.6 491.6,75.0 492.1,70.5 492.7,68.3 493.1,65.5 493.6,63.7 494.1,66.7 494.7,71.0 495.1,76.5 495.6,81.7 496.1,86.1 496.7,90.3 497.1,83.3 497.6,75.0 498.1,68.4 498.7,61.0 499.1,64.5 499.6,67.0 500.0,60.0 500.5,63.9 501.1,66.0 501.5,71.7 502.0,78.0 502.5,70.9 502.9,64.7 503.5,67.2 504.0,67.3 504.5,73.8 504.9,82.0 505.5,75.2 506.0,67.3 506.5,70.3 506.9,72.7 507.5,74.2 508.0,78.0 508.5,74.8 508.9,70.0 509.5,70.3 510.0,68.7 510.7,55.3 511.3,43.3 511.8,49.0 512.3,54.0 512.7,57.9 513.1,60.7 513.5,64.7 514.0,67.3 514.5,69.1 514.9,72.7 515.5,71.7 516.0,70.7 516.5,73.7 517.1,76.7 517.5,78.1 518.0,78.0 518.5,80.1 518.9,80.7 519.5,79.8 520.0,77.3 520.5,77.9 521.1,78.0 521.5,77.3 522.0,74.7 522.4,74.4 522.9,73.8 523.3,72.7 523.9,75.4 524.4,79.3 524.9,79.9 525.3,82.7 525.9,82.1 526.4,83.3 526.9,79.7 527.3,76.7 527.8,70.4 528.3,66.0 528.7,64.8 529.1,62.0 529.5,64.1 530.0,66.0 530.5,67.6 530.9,68.7 531.5,73.0 532.0,76.7 532.5,77.8 533.1,78.0 533.5,74.0 534.0,70.0 534.5,70.8 534.9,74.0 535.5,77.4 536.0,79.3 536.5,81.3 537.1,82.0 537.5,84.0 538.0,86.0 538.5,82.8 538.9,79.3 539.5,75.4 540.0,70.7 540.5,68.6 540.9,68.7 541.5,71.9 542.0,74.0 542.5,77.4 542.9,82.0 543.5,78.3 544.0,76.7 544.5,76.8 544.9,78.0 545.5,74.6 546.0,70.0 546.5,67.3 546.9,66.0 547.5,66.9 548.0,66.7 548.5,71.5 548.9,74.0 549.5,71.3 550.0,68.7 550.5,65.1 550.9,62.0 551.5,56.6 552.0,51.3 552.5,50.8 553.1,49.3 553.5,56.3 554.0,62.0 554.7,74.0 555.2,70.9 555.7,67.3 556.2,65.0 556.7,62.0 557.3,56.0 557.8,59.3 558.3,64.7 558.7,66.5 559.1,70.0 559.5,66.1 560.0,63.3 560.5,65.9 560.9,67.3 561.3,72.2 561.7,78.0 562.2,74.2 562.7,70.0 563.1,72.2 563.6,76.7 564.1,72.9 564.7,71.3 565.1,69.9 565.6,70.0 566.0,68.7 566.5,71.1 567.1,72.7 567.5,75.1 568.0,76.7 568.5,77.5 569.1,79.3 569.5,79.7 570.0,80.0 570.4,78.4 570.9,76.8 571.3,75.3 571.9,76.4 572.4,79.3 572.9,79.6 573.3,78.0 573.9,81.3 574.4,86.0 574.9,85.1 575.3,82.0 575.9,87.0 576.4,90.0 576.9,89.5 577.3,91.3 577.8,87.2 578.3,83.3 578.8,86.1 579.3,87.3 579.9,91.8 580.4,94.0 580.9,91.9 581.3,90.0 581.8,92.1 582.3,95.3 582.8,92.6 583.3,91.3 583.8,88.7 584.3,84.0 584.7,88.3 585.1,94.0 585.5,88.5 586.0,82.7 586.5,86.8 587.1,92.7 587.5,94.1 588.0,95.3 588.5,93.1 588.9,88.7 589.3,81.8 589.7,76.7 590.2,74.1 590.7,70.0 591.3,64.7 591.8,68.0 592.3,71.3 592.8,73.6 593.3,74.0 593.8,79.2 594.3,83.3 594.7,88.0 595.1,94.0 595.5,89.3 596.0,82.7 596.5,82.0 597.1,81.3 597.5,77.5 598.0,76.0 598.5,78.5 598.9,83.3 599.5,82.6 600.0,82.0 600.5,79.2 600.9,76.7 601.3,77.9 601.7,80.0 602.2,71.5 602.7,64.7 603.3,60.0 603.8,64.6 604.3,70.0 604.7,67.6 605.1,66.0 605.5,71.5 606.0,75.3 606.5,76.1 607.1,79.3 607.5,82.3 608.0,84.0 608.5,86.5 608.9,87.3 609.5,90.1 610.0,94.7 610.5,93.4 610.9,90.0 611.5,91.2 612.0,91.3 612.5,86.6 612.9,80.0 613.5,79.8 614.0,80.7 614.5,83.7 614.9,87.3 615.5,85.1 616.0,83.3 616.5,87.9 616.9,90.0 617.5,87.5 618.0,84.7 618.5,81.0 618.9,78.0 619.5,74.8 620.0,72.0 620.5,75.1 620.9,79.3 621.5,70.6 622.0,64.0 622.5,64.7 622.9,67.3 623.3,72.1 623.7,75.3 624.2,82.2 624.7,90.0 625.2,89.4 625.7,86.7 626.2,87.4 626.7,89.3 627.1,85.1 627.6,82.0 628.1,85.4 628.7,88.7 629.1,85.6 629.6,84.0 630.0,81.0 630.4,78.7 630.9,83.8 631.3,86.7 631.8,86.6 632.3,84.7 632.8,88.1 633.3,90.0 633.9,90.0 634.4,89.3 634.9,92.3 635.3,93.3 635.9,93.4 636.4,91.3 636.9,93.1 637.3,94.7 637.8,92.5 638.3,89.3 638.8,90.6 639.3,94.0 640.0,84.0 640.5,83.9 641.1,82.7 641.5,87.9 642.0,93.3 642.5,95.9 642.9,97.3 643.5,94.3 644.0,90.7 644.5,87.2 644.9,84.7 645.3,87.3 645.7,92.0 646.2,95.0 646.7,96.0 647.2,94.1 647.7,94.0 648.2,96.3 648.7,98.7 649.1,97.0 649.6,96.0 650.1,98.2 650.7,101.3 651.1,97.2 651.6,92.0 652.1,95.8 652.7,97.3 653.1,95.4 653.6,94.7 654.1,99.0 654.7,102.7 655.2,104.9 655.7,108.0 656.2,104.8 656.7,101.3 657.2,99.7 657.7,98.7 658.2,96.2 658.7,95.3 659.2,96.9 659.7,100.0 660.2,102.3 660.7,106.0 661.2,104.3 661.7,100.7 662.2,102.7 662.7,104.7 663.2,101.7 663.7,100.0 664.2,104.6 664.7,107.3 665.2,109.5 665.7,109.3 666.2,110.5 666.7,112.0 667.1,109.1 667.6,108.0 668.1,110.6 668.7,114.7 669.1,112.0 669.6,111.3 670.1,113.6 670.7,116.7 671.1,117.0 671.6,119.3 672.3,102.7 672.7,82.0 673.3,81.3 674.0,100.0 674.5,100.0 674.9,101.3 675.5,105.4 676.0,110.7 676.5,112.8 677.1,114.7 677.5,110.9 678.0,105.3 678.5,105.6 678.9,104.7 679.5,109.8 680.0,115.3 680.5,116.5 680.9,118.0 681.5,109.7 682.0,101.3 682.5,99.0 682.9,97.3 683.5,95.9 684.0,95.3 684.5,98.9 684.9,104.7 685.5,107.8 686.0,112.0 686.5,109.5 686.9,104.7 687.5,101.4 688.0,100.0 688.5,106.7 688.9,113.3 689.5,108.3 690.0,102.7 690.5,104.2 690.9,104.0 691.5,106.0 692.0,109.3 692.5,110.1 692.9,112.0 693.5,106.1 694.0,101.3 694.5,104.8 694.9,108.7 695.3,102.2 695.7,96.0 696.2,94.4 696.7,90.7 697.1,94.2 697.6,96.0 698.0,103.6 698.4,109.3 698.9,104.5 699.3,102.0 699.8,105.9 700.3,112.0 700.8,111.2 701.3,109.3 701.8,114.6 702.3,118.0 702.8,112.6 703.3,107.3 703.8,111.9 704.3,116.0 704.8,112.1 705.3,110.7 705.8,112.4 706.3,114.7 706.8,111.4 707.3,106.0 708.0,96.0 708.7,90.7 709.1,97.1 709.6,102.0 710.0,108.5 710.4,113.3 710.9,110.5 711.3,105.3 711.8,106.1 712.3,108.0 712.8,110.1 713.3,114.0 713.8,110.8 714.3,109.3 714.8,112.7 715.3,116.0 715.8,111.8 716.3,106.7 716.8,110.4 717.3,112.0 717.9,108.9 718.4,104.7 718.9,108.0 719.3,110.7 719.9,107.6 720.4,103.3 720.9,107.6 721.3,112.0 721.9,110.1 722.4,108.0 722.9,109.6 723.3,113.3 723.8,111.3 724.3,108.0 724.8,111.0 725.3,115.3 725.8,115.0 726.3,112.7 726.8,114.0 727.3,114.7 727.7,112.5 728.1,111.3" stroke="#d3142a" stroke-width="1"/><polyline points="65.3,87.3 75.7,87.3 76.3,100.0 77.1,120.0 78.0,138.7 79.7,142.9 82.0,138.7 84.7,132.0 86.7,128.3 90.0,134.0 92.7,137.7 96.0,139.3 100.0,136.0 104.0,128.0 108.0,125.3 112.0,122.0 115.3,122.0 117.3,119.3 121.3,117.3 125.3,116.3 128.0,118.0 130.0,119.0 132.0,121.0 134.5,122.5 137.0,120.5 139.0,117.5 142.0,114.5 145.0,112.5 148.0,111.5 150.5,113.5 153.0,112.0 155.5,110.0 158.0,108.5 160.0,108.2 162.0,107.2 164.5,109.0 166.5,111.0 168.5,112.2 170.5,111.2 173.0,112.8 175.0,110.0 177.0,106.0 179.0,102.8 180.5,103.5 182.0,102.0 184.5,98.5 187.0,96.5 190.0,94.0 193.0,91.8 196.0,93.5 199.0,96.5 202.0,99.5 203.5,100.5 204.9,99.1 206.0,97.0 210.0,91.7 214.0,88.1 216.7,88.1 218.7,89.0 222.0,87.3 224.7,88.1 228.0,86.3 230.7,89.0 234.0,93.0 237.3,96.3 240.0,97.3 242.7,98.7 245.3,95.3 248.0,94.7 250.7,95.3 252.7,96.0 254.7,92.7 257.3,92.0 260.0,92.7 262.7,93.3 264.7,96.7 266.7,102.7 269.3,107.3 272.0,106.7 275.3,105.1 278.0,104.7 280.7,106.7 284.0,109.3 287.3,109.6 290.7,109.1 293.3,107.3 296.0,108.0 298.7,110.0 302.7,110.9 306.0,110.7 309.3,110.0 312.7,108.7 316.0,107.7 319.3,107.3 322.7,104.7 325.3,108.7 328.0,112.7 330.0,112.7 332.7,113.6 335.3,114.7 338.0,112.0 340.7,110.7 343.3,108.0 347.3,104.7 350.0,101.3 352.7,100.0 354.7,94.7 356.7,91.7 359.3,91.3 362.0,90.0 364.7,86.9 367.3,88.7 370.0,90.0 372.7,92.0 374.7,94.4 377.3,94.7 380.0,95.3 382.7,94.0 386.0,91.7 389.3,90.4 392.7,89.6 395.3,89.1 397.3,88.0 400.0,89.1 402.7,90.4 405.3,88.7 408.0,88.0 410.7,86.4 414.0,84.4 416.7,85.3 419.3,85.3 420.0,86.3 422.0,85.9 424.0,89.0 426.7,91.0 429.3,89.4 432.0,92.3 434.7,91.7 437.3,90.3 440.0,93.0 443.3,93.7 446.7,95.0 450.0,96.3 453.3,95.0 456.0,94.7 458.0,97.7 460.7,97.4 463.3,98.3 466.0,100.3 468.0,98.3 470.7,101.0 472.7,105.0 475.3,105.4 478.0,107.3 480.7,105.7 484.0,103.7 487.3,101.7 490.7,99.0 493.3,95.0 496.0,93.0 498.7,91.3 500.0,90.3 502.7,88.7 505.3,86.7 508.0,84.7 510.7,84.7 512.7,81.3 515.3,80.9 518.0,81.7 520.7,84.7 523.3,88.0 526.0,90.7 528.0,91.1 530.0,88.0 532.7,87.1 535.3,87.6 538.0,88.7 541.3,89.3 544.7,89.3 547.3,88.0 550.0,85.7 552.7,83.1 555.3,81.3 558.0,80.0 560.7,79.3 563.3,81.7 566.0,82.3 568.7,84.0 570.0,86.0 572.7,88.7 575.3,91.3 578.0,94.7 580.7,97.3 583.3,100.7 586.7,100.9 590.0,100.0 592.7,96.0 594.7,94.3 597.3,93.7 600.0,92.7 602.7,93.3 605.3,90.0 608.0,89.3 610.0,90.7 612.7,95.3 615.3,98.7 617.3,100.0 620.0,97.7 622.0,94.0 624.0,91.6 626.7,92.4 629.3,94.0 632.0,95.3 634.7,98.7 637.3,99.6 640.0,100.0 642.7,101.3 645.3,102.4 648.0,103.3 650.7,105.3 653.3,107.3 656.0,110.7 658.7,111.7 661.3,112.3 664.0,114.0 666.7,114.9 669.3,117.3 672.0,119.7 674.0,116.7 676.7,116.0 679.3,116.7 682.0,117.1 683.3,116.0 686.0,118.4 688.7,117.6 691.3,116.3 694.0,115.3 696.0,115.7 698.7,114.0 701.3,114.7 704.0,116.0 706.0,119.3 707.3,121.1 709.3,119.3 712.0,119.3 714.7,118.4 717.3,118.4 720.0,119.3 722.7,118.9 725.3,119.3 728.1,120.3" stroke="#cfab3f" stroke-width="0.95"/></g><rect x="72.5" y="344.5" width="495" height="25" fill="#fff" stroke="#000" stroke-width="1" shape-rendering="crispEdges"/><line x1="527" y1="350.5" x2="561" y2="350.5" stroke="#d61f33" stroke-width="0.75"/><line x1="527" y1="363.5" x2="561" y2="363.5" stroke="#cfab3f" stroke-width="0.75"/></svg>
<div class="t" style="right:10px;top:-1px;letter-spacing:0.3px;">V-Lab (2026)</div>
<div class="t yl" style="top:9px">10000</div>
<div class="t yl" style="top:81px">1000</div>
<div class="t yl" style="top:153px">100</div>
<div class="t yl" style="top:225px">10</div>
<div class="t yl" style="top:297px">1</div>
<div class="t yl" style="top:369px">0</div>
<div class="t xl" style="left:77.3px;top:381px">2014</div>
<div class="t xl" style="left:129.2px;top:381px">2015</div>
<div class="t xl" style="left:181.2px;top:381px">2016</div>
<div class="t xl" style="left:233.1px;top:381px">2017</div>
<div class="t xl" style="left:285.0px;top:381px">2018</div>
<div class="t xl" style="left:336.9px;top:381px">2019</div>
<div class="t xl" style="left:388.9px;top:381px">2020</div>
<div class="t xl" style="left:440.8px;top:381px">2021</div>
<div class="t xl" style="left:492.7px;top:381px">2022</div>
<div class="t xl" style="left:544.7px;top:381px">2023</div>
<div class="t xl" style="left:596.6px;top:381px">2024</div>
<div class="t xl" style="left:648.5px;top:381px">2025</div>
<div class="t xl" style="left:700.5px;top:381px">2026</div>
<div class="t lg" style="top:345px">Sinopec Engineering Group Co Ltd - ILLIQ-MFMEM Illiquidity</div>
<div class="t lg" style="top:357px">Sinopec Engineering Group Co Ltd - ILLIQ-MFMEM Illiquidity Trend</div>
<div class="t" style="left:-18.5px;top:188px;width:60px;text-align:center;transform:rotate(-90deg);letter-spacing:0.5px;color:#222">Illiquidity</div>
</body></html>
